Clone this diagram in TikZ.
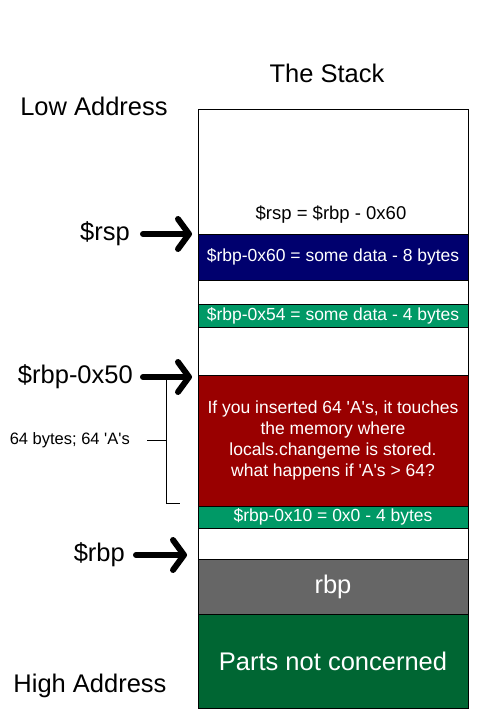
\documentclass[tikz,border=0pt]{standalone}
\usepackage{fontspec}
\setmainfont{Liberation Sans}
\usepackage{tikz}
\usetikzlibrary{arrows.meta,positioning,calc}
\definecolor{mynavy}{RGB}{0,0,110}
\definecolor{mygreen}{RGB}{0,153,102}
\definecolor{myred}{RGB}{153,0,0}
\definecolor{mygray}{RGB}{102,102,102}
\definecolor{mydkgreen}{RGB}{0,102,51}
\newcommand{\apos}{\textquotesingle}

\begin{document}
\begin{tikzpicture}[x=1pt,y=-1pt,
  cell/.style={draw=black, line width=0.8pt, text=white, inner sep=0pt,
               outer sep=0pt, minimum width=270pt},
  celltxt/.style={font=\fontsize{17.5}{21}\selectfont},
  lbl/.style={font=\fontsize{25.5}{30}\selectfont},
  side/.style={lbl, anchor=east, inner sep=0pt},
  ptr/.style={line width=6pt, line cap=round,
              -{Straight Barb[length=11pt, width=30pt, line cap=round, line join=round]}},
  brk/.style={line width=0.8pt}
]
  \useasboundingbox (0,0) rectangle (500,720);

  % the stack frame
  \node[draw, line width=0.8pt, inner sep=0pt, minimum width=270pt,
        minimum height=599pt, anchor=north west](stack) at (198,109){};
  \node[lbl](title) at (327,73){The Stack};

  \node[cell, celltxt, fill=mynavy, minimum height=46pt, anchor=north west]
    (blue) at (198,234){\$rbp-0x60 = some data - 8 bytes};
  \node[font=\fontsize{18.5}{22}\selectfont](rspeq) at (331,215){\$rsp = \$rbp - 0x60};
  \node[cell, celltxt, fill=mygreen, minimum height=23pt,
        below=24pt of blue](loc1){\$rbp-0x54 = some data - 4 bytes};
  \node[cell, celltxt, fill=myred, minimum height=131pt,
        align=center, below=48pt of loc1](buf){If you inserted 64 \apos A\apos s, it touches\\
    the memory where\\ locals.changeme is stored.\\ what happens if \apos A\apos s > 64?};
  \node[cell, celltxt, fill=mygreen, minimum height=22pt,
        below=0pt of buf](chg){\$rbp-0x10 = 0x0 - 4 bytes};
  \node[cell, lbl, fill=mygray, minimum height=55pt,
        below=31pt of chg](rbpbox){rbp};
  \node[cell, lbl, fill=mydkgreen, minimum height=94pt,
        below=0pt of rbpbox](rest){Parts not concerned};

  % labels on the left
  \node[lbl](low) at (94,106){Low Address};
  \node[lbl](high) at (90,686){High Address};
  \node[side](rsp) at (130,234){\$rsp};
  \node[side](rbp50) at (133,377){\$rbp-0x50};
  \node[side](rbp) at (125,555){\$rbp};
  \node[font=\fontsize{16.5}{20}\selectfont, anchor=east, inner sep=0pt]
    (bytes) at (130,440){64 bytes; 64 \apos A\apos s};

  \draw[ptr]([xshift=13pt]rsp.east)--([xshift=-6pt]rsp.east -| stack.west);
  \draw[ptr]([xshift=10pt]rbp50.east)--([xshift=-6pt]rbp50.east -| stack.west);
  \draw[ptr]([xshift=11pt]rbp.east)--([xshift=-11pt]rbp.east -| stack.west);

  % bracket for the buffer
  \coordinate(btop) at (166,377);
  \coordinate(bbot) at (166,503);
  \draw[brk](btop)--(bbot)--++(14,0);
  \draw[brk]([xshift=17pt]bytes.east)--(bytes.east -| btop);
\end{tikzpicture}
\end{document}
